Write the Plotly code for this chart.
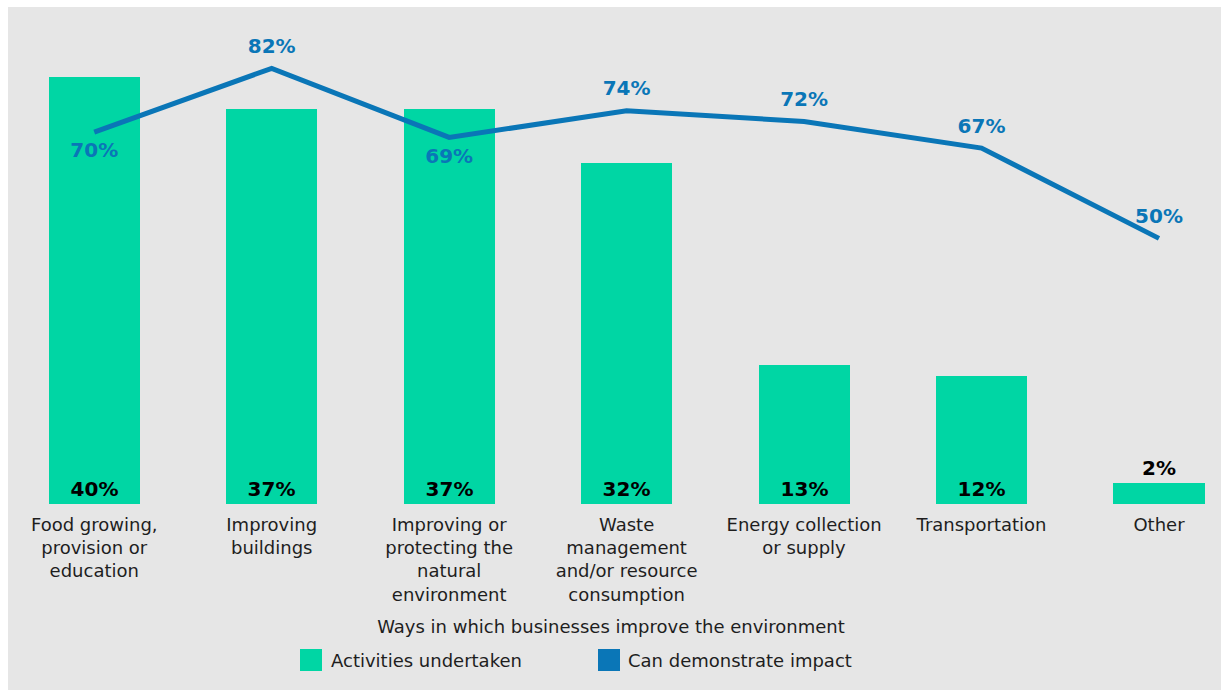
import plotly.graph_objects as go

# Ways in which businesses improve the environment
categories = [
    "Food growing,<br>provision or<br>education",
    "Improving<br>buildings",
    "Improving or<br>protecting the<br>natural<br>environment",
    "Waste<br>management<br>and/or resource<br>consumption",
    "Energy collection<br>or supply",
    "Transportation",
    "Other",
]
activities_undertaken = [40, 37, 37, 32, 13, 12, 2]
can_demonstrate_impact = [70, 82, 69, 74, 72, 67, 50]
series_names = ["Activities undertaken", "Can demonstrate impact"]
axis_title = "Ways in which businesses improve the environment"

GREEN = "#00d6a4"
BLUE = "#0a76b7"
GREY = "#e6e6e6"
TEXT = "#1e1e1e"
FONT = "DejaVu Sans"
LABEL_SIZE = 18

W, H = 1221, 690
L, R, T, B = 8, 7, 24, 186
PW, PH = W - L - R, H - T - B

x = list(range(len(categories)))

def px_x(p):
    return (p - L) / PW

def px_y(p):
    return (H - B - p) / PH

fig = go.Figure()

bar_positions = ["inside"] * (len(activities_undertaken) - 1) + ["outside"]
bar_font = dict(family=FONT, size=20, color="black", weight="bold")
fig.add_trace(go.Bar(
    x=x, y=activities_undertaken,
    name=series_names[0],
    marker=dict(color=GREEN, line=dict(width=0)),
    width=0.513,
    text=[f"{v}%" for v in activities_undertaken],
    textposition=bar_positions,
    insidetextanchor="start",
    textfont=bar_font,
    insidetextfont=bar_font,
    outsidetextfont=bar_font,
    cliponaxis=False,
    showlegend=False,
    hoverinfo="skip",
))

line_positions = ["bottom center", "top center", "bottom center",
                  "top center", "top center", "top center", "top center"]
fig.add_trace(go.Scatter(
    x=x, y=can_demonstrate_impact,
    name=series_names[1],
    yaxis="y2",
    mode="lines+markers+text",
    line=dict(color=BLUE, width=5),
    marker=dict(size=15, color=BLUE, opacity=0),
    text=[f"{v}%" for v in can_demonstrate_impact],
    textposition=line_positions,
    textfont=dict(family=FONT, size=20, color=BLUE, weight="bold"),
    cliponaxis=False,
    showlegend=False,
    hoverinfo="skip",
))

shapes = [
    # grey panel behind the whole chart
    dict(type="rect", xref="paper", yref="paper",
         x0=px_x(8), x1=px_x(W + 5), y0=px_y(H + 5), y1=px_y(7),
         fillcolor=GREY, line=dict(width=0), layer="below"),
]
annotations = []

# legend swatches and labels
legend_items = [(GREEN, 311, 329), (BLUE, 609, 626)]
for (color, cx, tx), name in zip(legend_items, series_names):
    shapes.append(dict(type="rect", xref="paper", yref="paper",
                       x0=px_x(cx - 11), x1=px_x(cx + 11),
                       y0=px_y(671), y1=px_y(649),
                       fillcolor=color, line=dict(width=0)))
    annotations.append(dict(xref="paper", yref="paper", x=px_x(tx), y=px_y(660),
                            xanchor="left", yanchor="middle", showarrow=False,
                            text=name, font=dict(family=FONT, size=LABEL_SIZE, color=TEXT)))

fig.update_layout(
    width=W, height=H,
    margin=dict(l=L, r=R, t=T, b=B),
    paper_bgcolor="white",
    plot_bgcolor="rgba(0,0,0,0)",
    font=dict(family=FONT, size=LABEL_SIZE, color=TEXT),
    bargap=0,
    shapes=shapes,
    annotations=annotations,
    xaxis=dict(
        range=[-0.486, 6.310],
        tickmode="array", tickvals=x, ticktext=categories,
        ticks="outside", ticklen=4, tickcolor="rgba(0,0,0,0)",
        showgrid=False, zeroline=False, showline=False,
        tickfont=dict(family=FONT, size=LABEL_SIZE, color=TEXT),
        title=dict(text=axis_title, standoff=16,
                   font=dict(family=FONT, size=LABEL_SIZE, color=TEXT)),
    ),
    yaxis=dict(range=[0, 45], visible=False, showgrid=False, zeroline=False),
    yaxis2=dict(range=[0, 90.35], overlaying="y", visible=False,
                showgrid=False, zeroline=False),
)

fig.write_html("out.html")
